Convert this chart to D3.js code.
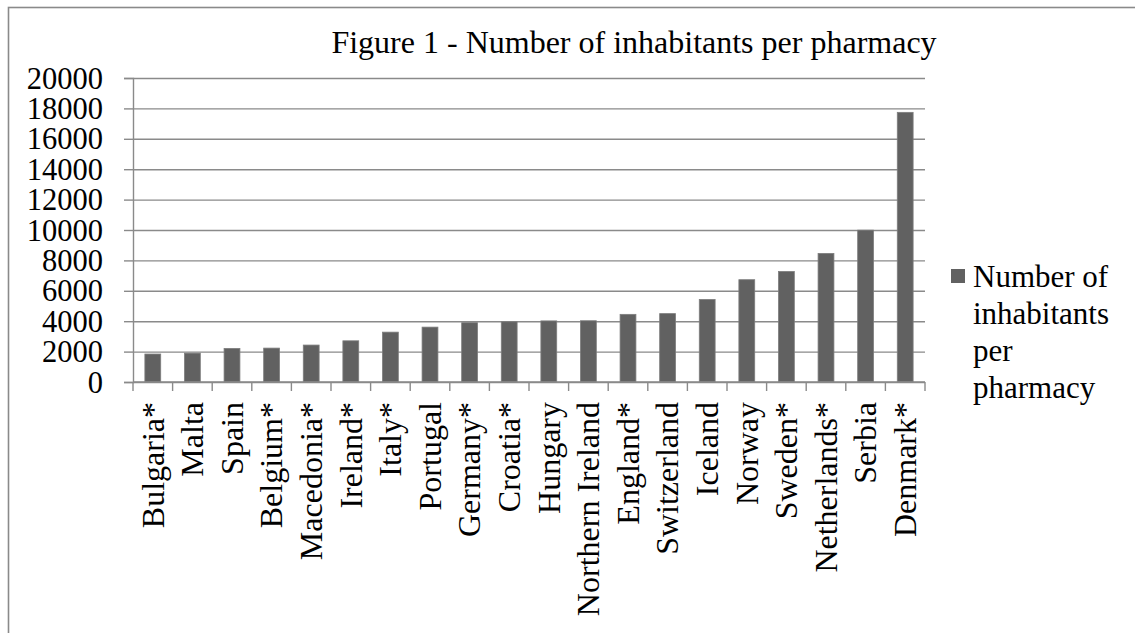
<!DOCTYPE html>
<html>
<head>
<meta charset="utf-8">
<script src="https://cdn.jsdelivr.net/npm/d3@7"></script>
<style>
  body { margin: 0; background: #fff; }
  text { font-family: "Liberation Serif", "Times New Roman", serif; fill: #000; }
</style>
</head>
<body>
<div id="graf"></div>
<script>
// values
const countries = ["Bulgaria*", "Malta", "Spain", "Belgium*", "Macedonia*", "Ireland*", "Italy*",
  "Portugal", "Germany*", "Croatia*", "Hungary", "Northern Ireland", "England*", "Switzerland",
  "Iceland", "Norway", "Sweden*", "Netherlands*", "Serbia", "Denmark*"]
const inhabitants = [1840, 1900, 2210, 2230, 2430, 2710, 3280, 3610, 3900, 3960, 4020, 4030,
  4450, 4500, 5430, 6730, 7270, 8460, 9990, 17740]
const yTicks = [0, 2000, 4000, 6000, 8000, 10000, 12000, 14000, 16000, 18000, 20000]
const title = "Figure 1 - Number of inhabitants per pharmacy"
const legendLines = ["Number of", "inhabitants", "per", "pharmacy"]

const width = 1135
const height = 633
const margin = ({top: 78, right: 210, bottom: 251, left: 133})
const grey = "#8a8a8a"
const barColor = "#616161"

const data = countries.map((c, i) => ({country: c, value: inhabitants[i]}))

const x = d3.scaleBand()
    .domain(countries)
    .range([margin.left, 925])
    .padding(0)

const y = d3.scaleLinear()
    .domain([0, 20000])
    .range([height - margin.bottom, margin.top])

const svg = d3.create("svg")
    .attr("width", width)
    .attr("height", height)
    .attr("viewBox", [0, 0, width, height])

// chart area border
svg.append("rect")
    .attr("x", 8.5).attr("y", 7.5)
    .attr("width", width + 20).attr("height", height + 20)
    .attr("fill", "none")
    .attr("stroke", grey)
    .attr("stroke-width", 1.6)

svg.append("text")
    .attr("x", 634)
    .attr("y", 53)
    .attr("text-anchor", "middle")
    .attr("font-size", 32)
    .text(title)

// y axis with gridlines
const yAxis = g => g
    .attr("transform", `translate(${margin.left},0)`)
    .call(d3.axisLeft(y).tickValues(yTicks).tickSize(9).tickPadding(21).tickFormat(d3.format("d")))
    .call(g => g.selectAll(".tick line").clone()
        .attr("x2", 925 - margin.left))
    .call(g => g.selectAll("line, path").attr("stroke", grey).attr("stroke-width", 1.4))
    .call(g => g.selectAll("text")
        .attr("font-size", 30.5)
        .attr("font-family", "Liberation Serif, Times New Roman, serif")
        .attr("dy", "0.33em")
        .attr("fill", "#000"))

svg.append("g").call(yAxis)

// bars
const bw = x.bandwidth() / 2.5
svg.append("g")
  .selectAll("rect")
  .data(data)
  .join("rect")
    .attr("x", d => x(d.country) + (x.bandwidth() - bw) / 2)
    .attr("y", d => y(d.value))
    .attr("width", bw)
    .attr("height", d => y(0) - y(d.value))
    .attr("fill", barColor)
    .attr("stroke", "#7d7d7d")
    .attr("stroke-width", 0.8)

// x axis: ticks at the category boundaries
const xg = svg.append("g")
const bounds = countries.map(c => x(c)).concat([x.range()[1]])
xg.append("line")
    .attr("x1", margin.left).attr("x2", 925)
    .attr("y1", y(0)).attr("y2", y(0))
    .attr("stroke", grey).attr("stroke-width", 1.4)
xg.selectAll(".bt")
  .data(bounds)
  .join("line")
    .attr("class", "bt")
    .attr("x1", d => d).attr("x2", d => d)
    .attr("y1", y(0)).attr("y2", y(0) + 9)
    .attr("stroke", grey).attr("stroke-width", 1.4)

xg.selectAll(".lab")
  .data(countries)
  .join("text")
    .attr("class", "lab")
    .attr("transform", d => `translate(${x(d) + x.bandwidth() / 2},${y(0) + 20}) rotate(-90)`)
    .attr("text-anchor", "end")
    .attr("dy", "0.34em")
    .attr("font-size", 32)
    .text(d => d)

// legend
const lg = svg.append("g")
lg.append("rect")
    .attr("x", 951).attr("y", 269)
    .attr("width", 14).attr("height", 14)
    .attr("fill", barColor)
lg.selectAll("text")
  .data(legendLines)
  .join("text")
    .attr("x", 973)
    .attr("y", (d, i) => 287 + i * 37)
    .attr("font-size", 31)
    .text(d => d)

d3.select("#graf").append(() => svg.node())
</script>
</body>
</html>
